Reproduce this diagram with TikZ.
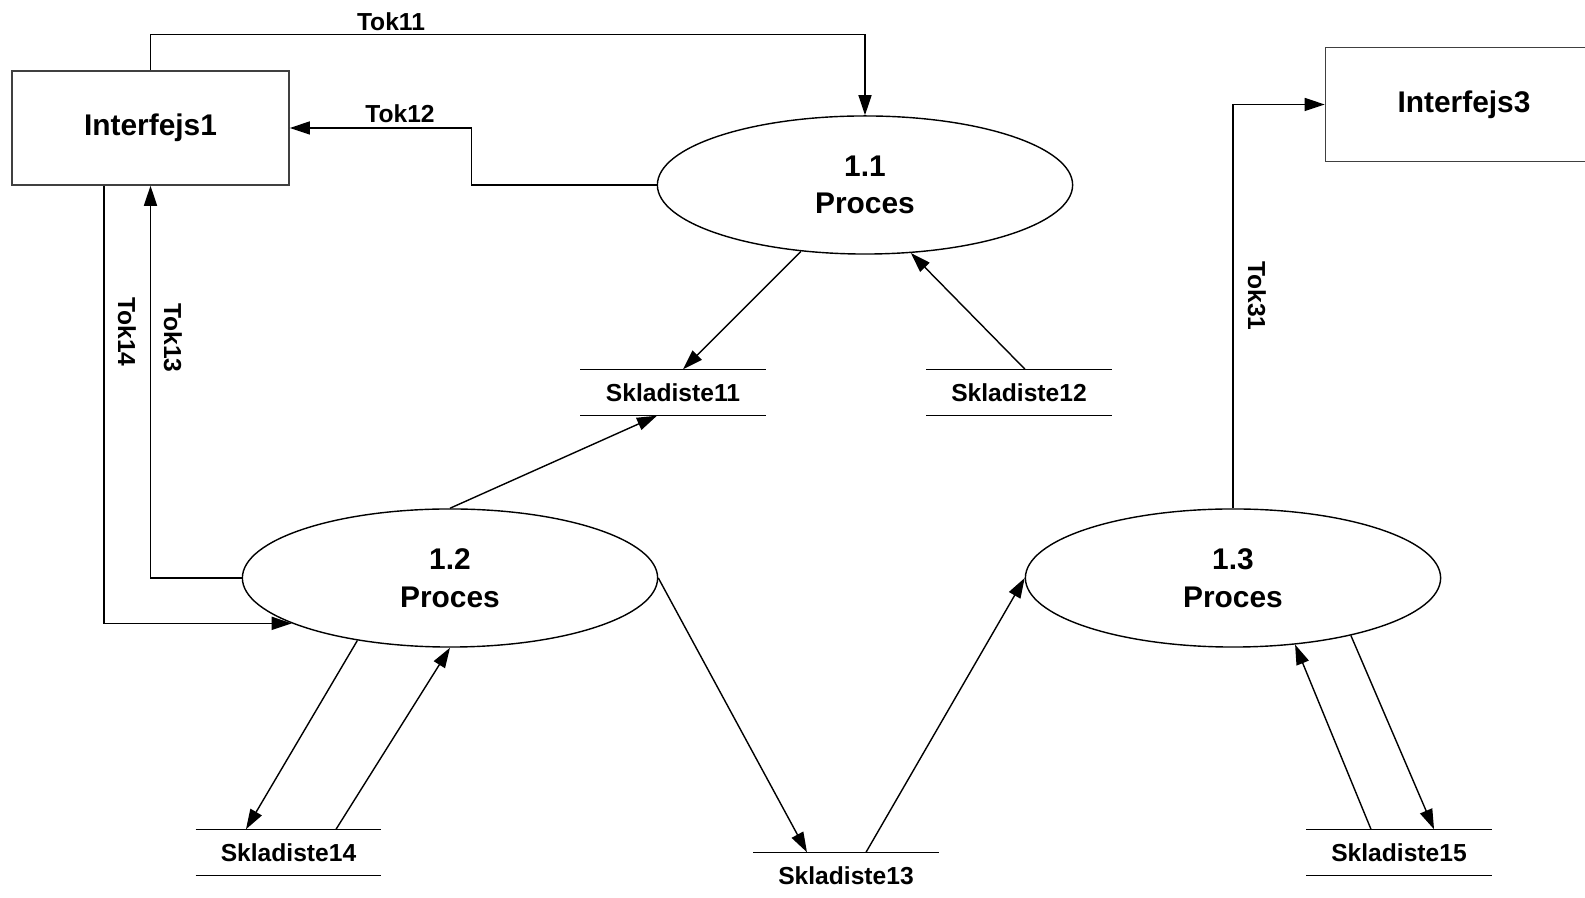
\documentclass[tikz,border=0pt]{standalone}
\usepackage{fontspec}
\setmainfont{Liberation Sans}
\usetikzlibrary{shapes.geometric,arrows.meta,positioning}
\tikzset{process/.style={ellipse,draw,minimum width=4.15cm,minimum height=1.38cm,inner sep=0pt,align=center,font=\fontsize{8.5}{10.7}\selectfont\bfseries},
         entity/.style={rectangle,draw=black!75,minimum width=2.77cm,minimum height=1.14cm,inner sep=0pt,font=\fontsize{8.5}{10}\selectfont\bfseries},
         store/.style={rectangle,minimum width=1.84cm,minimum height=0.45cm,inner sep=0pt,font=\fontsize{7}{8}\selectfont\bfseries,
             append after command={(\tikzlastnode.north west) edge[draw,-] (\tikzlastnode.north east)
                                   (\tikzlastnode.south west) edge[draw,-] (\tikzlastnode.south east)}},
         flow label/.style={rectangle,draw=none,fill=none,inner sep=0pt,font=\fontsize{7}{8}\selectfont\bfseries}
}
\begin{document}
\begin{tikzpicture}[x=0.01cm,y=-0.01cm,
>={Triangle[length=5.7pt,width=3.7pt]},
line width=0.4pt]
\useasboundingbox (0,0) rectangle (1585,898);
% interfaces
\node [entity] (int1) at (150.5,128) {Interfejs1};
\node [entity] (int3) at (1464,104.5) {Interfejs3};
% processes
\node [process] (p11) at (865,185) {1.1\\Proces};
\node [process] (p12) at (450,578) {1.2\\Proces};
\node [process] (p13) at (1233,578) {1.3\\Proces};
% stores
\node [store] (st11) at (673,392.5) {Skladiste11};
\node [store] (st12) at (1019,392.5) {Skladiste12};
\node [store] (st13) at (846,875.5) {Skladiste13};
\node [store] (st14) at (288.5,852.5) {Skladiste14};
\node [store] (st15) at (1399,852.5) {Skladiste15};
% flows
\draw [->] (int1.north) -- ++(0,-35.5) -| (p11.north);
\draw [->] (p11.west) -- ++(-185,0) |- (int1.east);
\draw [->] (p12.west) -| (int1.south);
\draw [->] ([xshift=-0.465cm]int1.south) |- (p12.196);
\draw [->] (p13.north) |- (int3.west);
\draw [->] (p11.226) -- ([xshift=0.1cm]st11.north);
\draw [->] ([xshift=0.06cm]st12.north) -- (p11.304);
\draw [->] (p12.north) -- ([xshift=-0.16cm]st11.south);
\draw [->] (p12.214) -- ([xshift=-0.425cm]st14.north);
\draw [->] ([xshift=0.475cm]st14.north) -- (p12.south);
\draw [->] (p12.east) -- ([xshift=-0.39cm]st13.north);
\draw [->] ([xshift=0.2cm]st13.north) -- (p13.west);
\draw [->] ([xshift=-0.28cm]st15.north) -- (p13.313);
\draw [->] (p13.334) -- ([xshift=0.35cm]st15.north);
% flow labels
\node [flow label] (l11) at (391,22) {Tok11};
\node [flow label] (l12) at (400,114) {Tok12};
\node [flow label,rotate=-90] (l14) at (127,332) {Tok14};
\node [flow label,rotate=-90] (l13) at (173,338) {Tok13};
\node [flow label,rotate=-90] (l31) at (1257,296) {Tok31};
\end{tikzpicture}
\end{document}
